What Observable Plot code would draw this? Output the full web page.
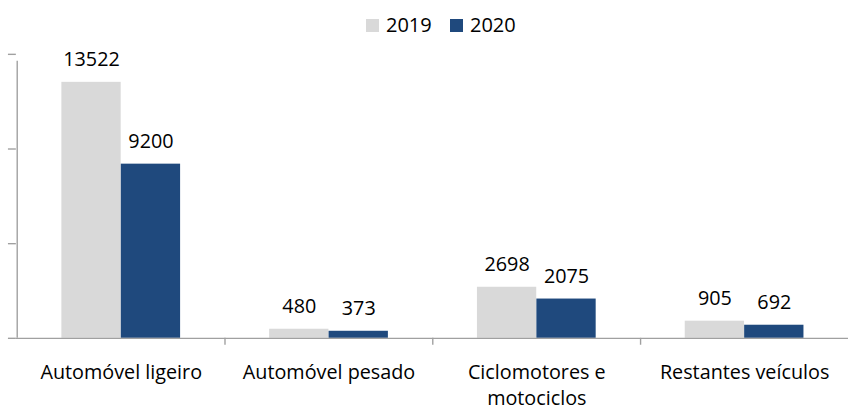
<!DOCTYPE html>
<html>
<head>
<meta charset="utf-8">
<script src="https://cdn.jsdelivr.net/npm/d3@7"></script>
<script src="https://cdn.jsdelivr.net/npm/@observablehq/plot@0.6"></script>
<style>
  html, body { margin: 0; padding: 0; background: #fff; overflow: hidden; }
  body { width: 848px; height: 412px; font-family: "Open Sans", sans-serif; }
  #legend { height: 40px; position: relative; font-size: 20px; color: #000; }
  .item { position: absolute; top: 12px; display: flex; align-items: center; line-height: 26px; }
  .sw { width: 13px; height: 13px; margin-right: 7px; }
</style>
</head>
<body>
<div id="legend"></div>
<div id="chart"></div>
<script>
const categories = ["Automóvel ligeiro", "Automóvel pesado", "Ciclomotores e motociclos", "Restantes veículos"];
const categoryLabels = ["Automóvel ligeiro", "Automóvel pesado", "Ciclomotores e\nmotociclos", "Restantes veículos"];
const years = ["2019", "2020"];
const values2019 = [13522, 480, 2698, 905];
const values2020 = [9200, 373, 2075, 692];
const yTicks = [0, 5000, 10000, 15000];
const colors = ["#d9d9d9", "#1f497d"];

const d19 = categories.map((c, i) => ({cat: c, value: values2019[i]}));
const d20 = categories.map((c, i) => ({cat: c, value: values2020[i]}));
const labelOf = new Map(categories.map((c, i) => [c, categoryLabels[i]]));

const W = 857, H = 372, ML = 16, MR = 0, MT = 14, MB = 71;
const pI = 0.4286, pO = 0.2143;
const step = (W - ML - MR) / (categories.length - pI + 2 * pO);
const bw = step * (1 - pI);
const axisColor = "#a0a0a0";

// legend
const leg = document.getElementById("legend");
const legPos = [366, 450];
years.forEach((y, i) => {
  const it = document.createElement("div");
  it.className = "item";
  it.style.left = legPos[i] + "px";
  it.innerHTML = `<span class="sw" style="background:${colors[i]}"></span><span>${y}</span>`;
  leg.appendChild(it);
});

const chart = Plot.plot({
  width: W, height: H,
  marginLeft: ML, marginRight: MR, marginTop: MT, marginBottom: MB,
  style: {fontFamily: "Open Sans, sans-serif", fontSize: "20px", color: "#000", background: "#fff", overflow: "visible"},
  x: {domain: categories, paddingInner: pI, paddingOuter: pO, axis: null, label: null},
  y: {domain: [0, 15000], axis: null, label: null},
  marks: [
    Plot.barY(d19, {x: "cat", y: "value", fill: colors[0], insetRight: bw / 2}),
    Plot.barY(d20, {x: "cat", y: "value", fill: colors[1], insetLeft: bw / 2}),
    Plot.text(d19, {x: "cat", y: "value", text: d => String(d.value), dx: -bw / 4, dy: -16, lineAnchor: "bottom", fill: "#000"}),
    Plot.text(d20, {x: "cat", y: "value", text: d => String(d.value), dx: bw / 4, dy: -16, lineAnchor: "bottom", fill: "#000"}),
    // baseline
    Plot.ruleY([0], {stroke: axisColor, strokeWidth: 1.4}),
    // y axis line
    Plot.ruleX([categories[0]], {dx: -step / 2, y1: 0, y2: 15000, insetBottom: -7, stroke: axisColor, strokeWidth: 1.4}),
    // y ticks (no labels)
    Plot.axisY({ticks: yTicks, tickSize: 8, tickFormat: () => "", label: null, stroke: axisColor, strokeWidth: 1.4}),
    // category ticks
    Plot.ruleX(categories.slice(1), {x: d => d, dx: -step / 2, y1: 0, y2: 0, insetBottom: -7, stroke: axisColor, strokeWidth: 1.4}),
    Plot.axisX({tickSize: 0, tickPadding: 23, lineHeight: 1.3, label: null, tickFormat: d => labelOf.get(d), fontSize: 20, fill: "#000"})
  ]
});
document.getElementById("chart").appendChild(chart);
</script>
</body>
</html>
